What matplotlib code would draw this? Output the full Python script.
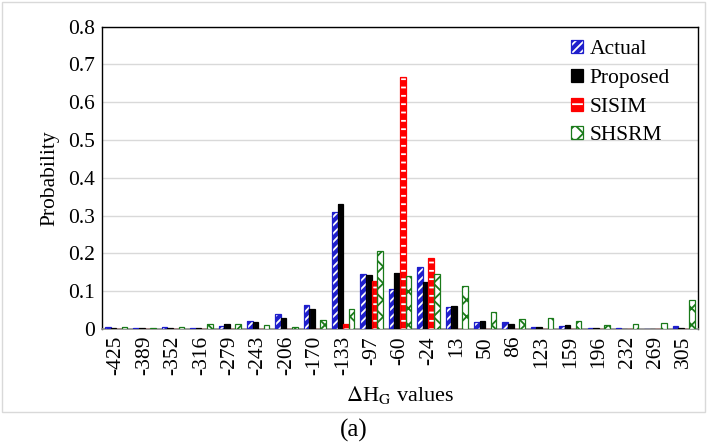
import numpy as np
import matplotlib
matplotlib.use("Agg")
import matplotlib.pyplot as plt
from matplotlib.patches import Rectangle
from matplotlib.legend_handler import HandlerTuple

plt.rcParams['font.family'] = ['Liberation Serif', 'DejaVu Serif']
plt.rcParams['mathtext.fontset'] = 'stix'
plt.rcParams['hatch.linewidth'] = 1.3

categorias = [-425, -389, -352, -316, -279, -243, -206, -170, -133, -97, -60,
              -24, 13, 50, 86, 123, 159, 196, 232, 269, 305]
actual = [0.005, 0.003, 0.005, 0.003, 0.008, 0.022, 0.041, 0.063, 0.31, 0.145, 0.107,
          0.165, 0.057, 0.018, 0.018, 0.005, 0.007, 0.003, 0.002, 0.0, 0.007]
proposed = [0.002, 0.002, 0.003, 0.002, 0.012, 0.019, 0.028, 0.052, 0.33, 0.142, 0.149,
            0.124, 0.06, 0.02, 0.013, 0.004, 0.01, 0.002, 0.0, 0.0, 0.003]
sisim = [0, 0, 0, 0, 0, 0, 0, 0, 0.014, 0.128, 0.668,
         0.187, 0, 0, 0, 0, 0, 0, 0, 0, 0]
shsrm = [0.005, 0.003, 0.005, 0.012, 0.012, 0.011, 0.004, 0.024, 0.052, 0.206, 0.139,
         0.145, 0.114, 0.046, 0.027, 0.03, 0.022, 0.011, 0.014, 0.017, 0.078]
nomes = ['Actual', 'Proposed', 'SISIM', 'SHSRM']

fig = plt.figure(figsize=(7.07, 4.44), dpi=100)
# moldura cinza do grafico (estilo Excel)
fig.patches.append(Rectangle((0.003, 0.072), 0.994, 0.924, transform=fig.transFigure,
                             fill=False, edgecolor='#d9d9d9', linewidth=1.0))
ax = fig.add_axes([0.1443, 0.259, 0.843, 0.681])

x = np.arange(len(categorias))
w = 0.197
azul, verde, vermelho = '#1f1fcc', '#1a7a1a', '#ff0000'
estilos = [
    dict(facecolor=azul, edgecolor='white', hatch='////'),
    dict(facecolor='black', edgecolor='black', hatch=None),
    dict(facecolor=vermelho, edgecolor='white', hatch='--'),
    dict(facecolor='white', edgecolor=verde, hatch='xx'),
]
contornos = [azul, 'black', vermelho, verde]
series = [actual, proposed, sisim, shsrm]
handles = []
for i, (vals, st, cor) in enumerate(zip(series, estilos, contornos)):
    pos = x + (i - 1.5) * w
    h = ax.bar(pos, vals, width=w, linewidth=0, zorder=3, **st)
    o = ax.bar(pos, vals, width=w, fill=False, edgecolor=cor, linewidth=0.9, zorder=4)
    handles.append((h, o))

ax.set_xlim(-0.5, len(categorias) - 0.5)
ax.set_ylim(0, 0.8)
ax.set_xticks(x)
ax.set_xticklabels([str(c) for c in categorias], rotation=90, fontsize=15.5)
ax.set_yticks(np.arange(0, 0.81, 0.1))
ax.set_yticklabels(['0'] + [f'{v:.1f}' for v in np.arange(0.1, 0.81, 0.1)], fontsize=15.5)
ax.tick_params(axis='both', length=0, pad=5)
ax.grid(axis='y', color='#d9d9d9', linewidth=1.0, zorder=0)
for s in ['left', 'top', 'right']:
    ax.spines[s].set_color('black')
    ax.spines[s].set_linewidth(1.0)
ax.spines['bottom'].set_color('#8c8c8c')
ax.spines['bottom'].set_linewidth(1.2)

ax.set_ylabel('Probability', fontsize=15.5, labelpad=6)
ax.set_xlabel(r'$\Delta$H$_{\mathrm{G}}$ values', fontsize=16, labelpad=6)

ax.legend(handles=handles, labels=nomes, handler_map={tuple: HandlerTuple(ndivide=1)},
          loc='upper right', bbox_to_anchor=(0.985, 1.02), frameon=False,
          fontsize=15.5, handlelength=0.55, handleheight=0.55, handletextpad=0.3,
          labelspacing=0.45)

fig.text(0.5, 0.03, '(a)', ha='center', va='center', fontsize=18)

plt.savefig('out.png', dpi=100)
